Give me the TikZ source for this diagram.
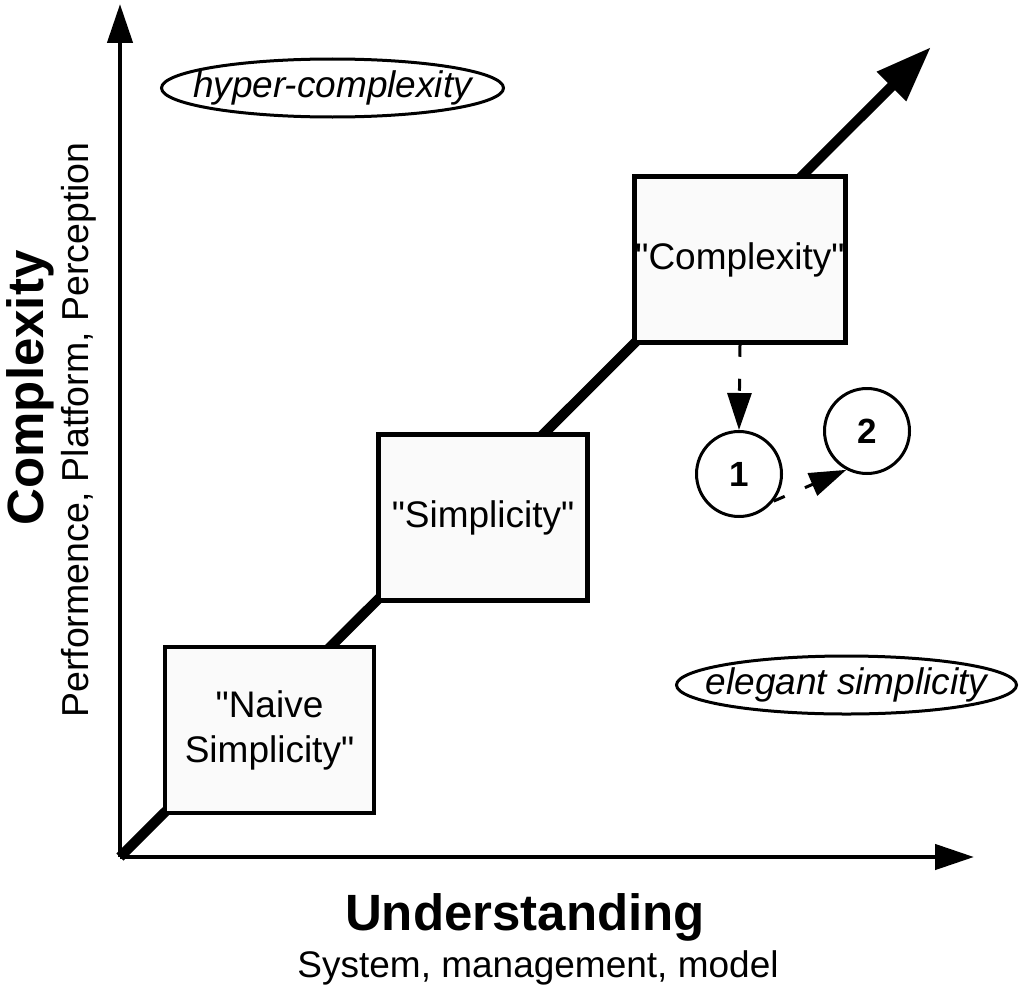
\documentclass[tikz,border=0pt]{standalone}
\usepackage{fontspec}
\setmainfont{Liberation Sans}[Ligatures=TeXOff]
\usetikzlibrary{arrows.meta,shapes.geometric}
\newcommand{\dq}{\symbol{34}}
\begin{document}
\begin{tikzpicture}[x=1pt,y=-1pt,
  axis/.style={line width=4.5pt,-{Triangle[length=39pt,width=25pt]}},
  diag/.style={line width=10pt,-{Triangle[length=56pt,width=39pt]}},
  stage/.style={draw,line width=4.5pt,fill=black!2,inner sep=0pt,align=center,
    font=\fontsize{37}{45}\selectfont,minimum width=209pt,minimum height=166pt},
  ovaltext/.style={inner sep=0pt,font=\fontsize{37}{44}\selectfont\itshape},
  ovalline/.style={line width=3pt,fill=white},
  num/.style={draw,circle,line width=3pt,inner sep=0pt,minimum size=85pt,fill=white,
    font=\fontsize{35}{40}\selectfont\bfseries},
  dasharrow/.style={line width=3pt,dash pattern=on 12pt off 22pt,
    -{Triangle[length=37pt,width=24pt]}}
]
\useasboundingbox (0,0) rectangle (1024,990);
\coordinate (O) at (120,857);
\coordinate (Ytip) at (120,4);
\coordinate (Xtip) at (974,857);
\coordinate (Dtip) at (931,47);
% main diagonal
\draw[diag] (O) -- (Dtip);
% axes
\draw[axis] (O) -- (Ytip);
\draw[axis] (O) -- (Xtip);
% stages
\node[stage] (naive) at (269.5,730) {\dq Naive\\Simplicity\dq};
\node[stage] (simp) at (483,517.5) {\dq Simplicity\dq};
\node[stage,minimum width=211pt] (comp) at (740,259.5) {\dq Complexity\dq};
% ovals
\coordinate (hc) at (332.5,88);
\coordinate (ec) at (846.5,685);
\draw[ovalline] (hc) ellipse [x radius=171, y radius=29];
\draw[ovalline] (ec) ellipse [x radius=170, y radius=29];
\node[ovaltext] (hyper) at (hc) {hyper-complexity};
\node[ovaltext] (eleg) at (ec) {elegant simplicity};
% circles
\node[num] (c1) at (739,474) {1};
\node[num] (c2) at (867,431) {2};
\draw[dasharrow] (comp.south) -- (c1.north);
\draw[dasharrow] (c1.-38) -- (c2.-118);
% axis labels
\node[anchor=base,font=\fontsize{51}{56}\selectfont\bfseries] (xl) at (525,930) {Understanding};
\node[anchor=base,font=\fontsize{37}{44}\selectfont] (xs) at (538,977) {System, management, model};
\node[anchor=base,rotate=90,font=\fontsize{51}{56}\selectfont\bfseries] (yl) at (43,388) {Complexity};
\node[anchor=base,rotate=90,font=\fontsize{37.5}{44}\selectfont] (ys) at (88,430) {Performence, Platform, Perception};
\end{tikzpicture}
\end{document}
